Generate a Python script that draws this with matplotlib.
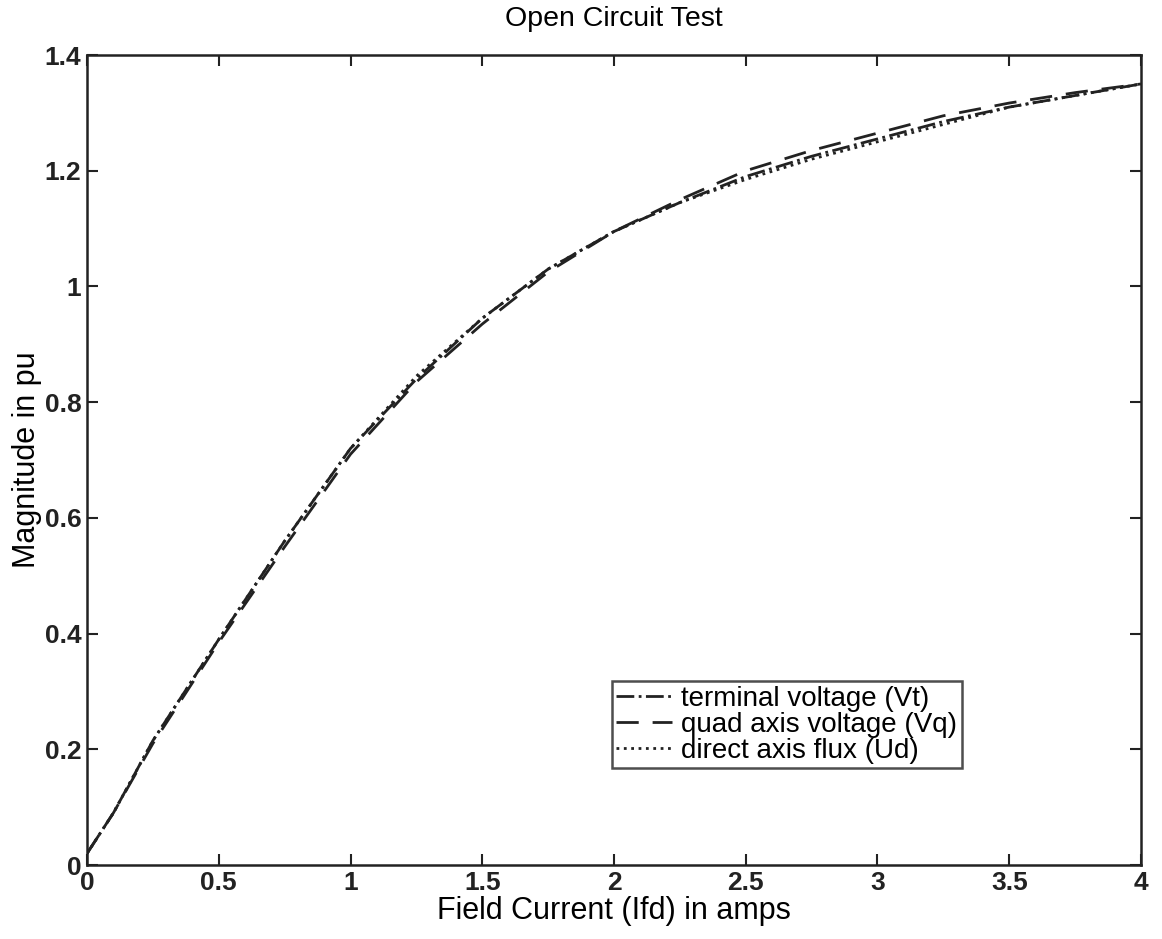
import numpy as np
import matplotlib
matplotlib.use("Agg")
import matplotlib.pyplot as plt

# field current (A) and magnitudes (pu)
ifd = [0, 0.1, 0.25, 0.5, 0.75, 1.0, 1.25, 1.5, 1.75, 2.0, 2.25, 2.5, 2.75, 3.0, 3.25, 3.5, 3.75, 4.0]
vt = [0.02, 0.09, 0.215, 0.39, 0.56, 0.72, 0.84, 0.945, 1.03, 1.095, 1.145, 1.19, 1.225, 1.255, 1.285, 1.31, 1.33, 1.35]
vq = [0.02, 0.09, 0.21, 0.385, 0.55, 0.71, 0.835, 0.935, 1.025, 1.095, 1.15, 1.2, 1.235, 1.265, 1.295, 1.317, 1.335, 1.35]
ud = [0.02, 0.09, 0.215, 0.39, 0.56, 0.72, 0.845, 0.945, 1.03, 1.095, 1.145, 1.185, 1.22, 1.25, 1.28, 1.31, 1.33, 1.35]

labels = ['terminal voltage (Vt)', 'quad axis voltage (Vq)', 'direct axis flux (Ud)']
xticks = [0, 0.5, 1, 1.5, 2, 2.5, 3, 3.5, 4]
yticks = [0, 0.2, 0.4, 0.6, 0.8, 1, 1.2, 1.4]

plt.rcParams['font.family'] = ['Liberation Sans', 'DejaVu Sans']

fig = plt.figure(figsize=(11.62, 9.39), dpi=100)
ax = fig.add_axes([0.0749, 0.0788, 0.907, 0.8626])

ax.plot(ifd, vt, color='#222222', linestyle='-.', linewidth=2, label=labels[0])
ax.plot(ifd, vq, color='#222222', linestyle=(0, (8, 5)), linewidth=2, label=labels[1])
ax.plot(ifd, ud, color='#222222', linestyle=':', linewidth=2, label=labels[2])

ax.set_xlim(0, 4)
ax.set_ylim(0, 1.4)
ax.set_xticks(xticks)
ax.set_xticklabels([f'{t:g}' for t in xticks], fontsize=19, fontweight='bold')
ax.set_yticks(yticks)
ax.set_yticklabels([f'{t:g}' for t in yticks], fontsize=19, fontweight='bold')
ax.tick_params(direction='in', length=8, width=1.5, top=True, right=True, pad=4, colors='#222222')
for s in ax.spines.values():
    s.set_linewidth(1.8)
    s.set_color('#222222')

ax.set_title('Open Circuit Test', fontsize=20.5, pad=21)
ax.set_xlabel('Field Current (Ifd) in amps', fontsize=22, labelpad=1)
ax.set_ylabel('Magnitude in pu', fontsize=22, labelpad=2)

leg = ax.legend(loc='lower left', bbox_to_anchor=(0.498, 0.12), fontsize=20,
                frameon=True, fancybox=False, edgecolor='#222222',
                labelspacing=0.0, handlelength=2.0, handletextpad=0.35,
                borderpad=0.15, borderaxespad=0)
leg.get_frame().set_linewidth(1.8)

fig.savefig('out.png', dpi=100, facecolor='white')
